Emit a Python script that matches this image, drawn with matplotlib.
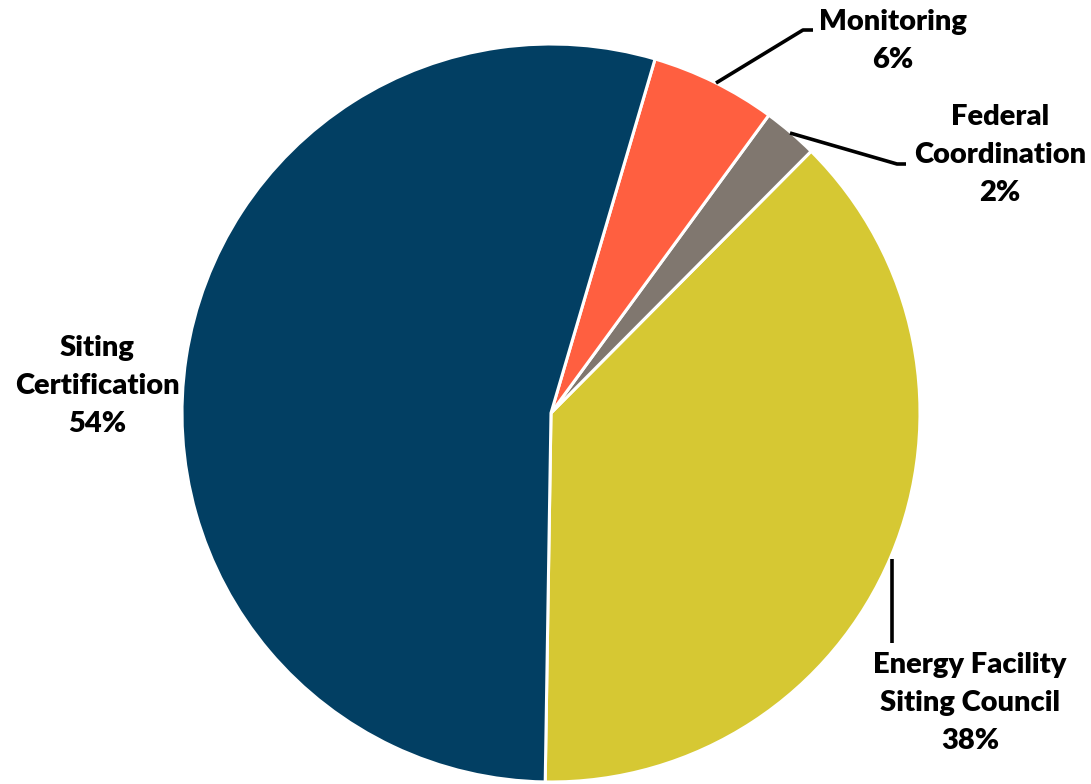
"""
Pie chart of program cost shares with outside labels and leader lines.
"""

import matplotlib

matplotlib.use("Agg")
import matplotlib.pyplot as plt

W, H = 1091, 784

# slices, counterclockwise from just past 6 o'clock
labels = ["Energy Facility\nSiting Council", "Federal\nCoordination", "Monitoring", "Siting\nCertification"]
shares = [37.8, 2.4, 5.5, 54.3]
pct_text = ["38%", "2%", "6%", "54%"]
colors = ["#D6C833", "#80776F", "#FF5F40", "#023F63"]

# label placement in pixel coordinates (top-left origin)
label_pos = [(970, 703), (1000, 155), (893, 41), (97, 386)]
leaders = [
    [(892, 559), (892, 643)],
    [(790, 133), (897, 164), (906, 164)],
    [(716, 83), (803, 30), (813, 30)],
    None,
]

plt.rcParams["font.family"] = ["Lato", "DejaVu Sans"]

fig = plt.figure(figsize=(W / 100, H / 100), dpi=100)
ax = fig.add_axes([0, 0, 1, 1])

ax.pie(
    shares,
    colors=colors,
    startangle=-90.9,
    counterclock=True,
    center=(551, H - 413),
    radius=369,
    wedgeprops=dict(edgecolor="white", linewidth=2.2),
)
ax.set_xlim(0, W)
ax.set_ylim(0, H)
ax.set_aspect("equal")
ax.axis("off")

for lab, pct, (x, y), pts in zip(labels, pct_text, label_pos, leaders):
    ax.text(x, H - y, f"{lab}\n{pct}", ha="center", va="center",
            fontsize=21, fontweight="heavy", linespacing=1.55)
    if pts:
        ax.plot([p[0] for p in pts], [H - p[1] for p in pts], color="black",
                linewidth=2.6, solid_capstyle="butt")

fig.savefig("out.png", dpi=100, facecolor="white")
